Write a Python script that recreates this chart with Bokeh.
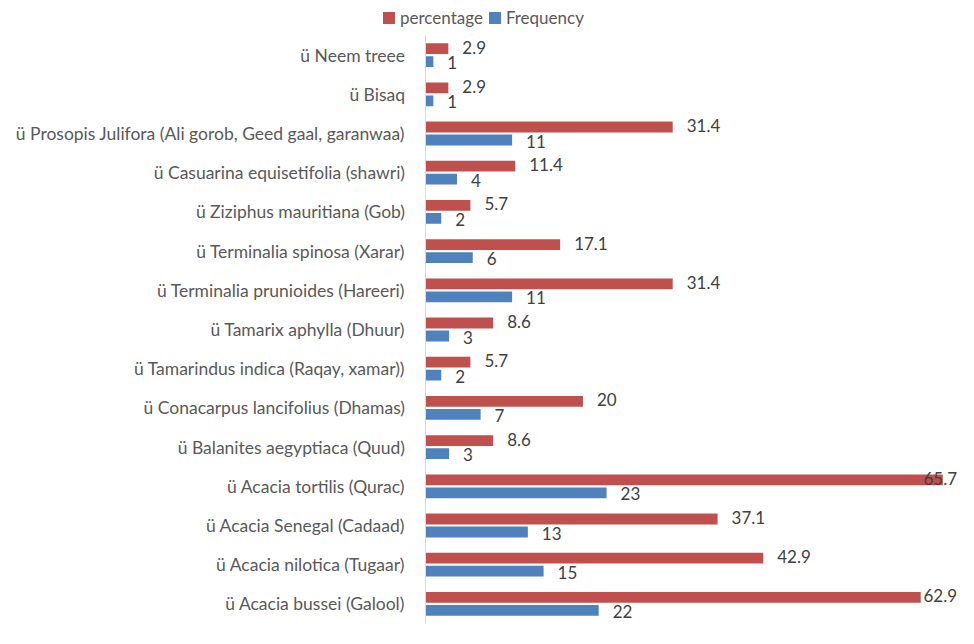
import numpy as np
from bokeh.plotting import figure
from bokeh.models import ColumnDataSource, FactorRange, Range1d, Legend, LegendItem
from bokeh.transform import dodge
from bokeh.core.properties import value
from bokeh.embed import file_html
from bokeh.resources import INLINE

# bottom to top
categories = [
    "ü  Acacia bussei (Galool)",
    "ü  Acacia nilotica (Tugaar)",
    "ü  Acacia Senegal (Cadaad)",
    "ü  Acacia tortilis (Qurac)",
    "ü  Balanites aegyptiaca (Quud)",
    "ü  Conacarpus lancifolius (Dhamas)",
    "ü  Tamarindus indica (Raqay, xamar))",
    "ü  Tamarix aphylla (Dhuur)",
    "ü  Terminalia prunioides (Hareeri)",
    "ü  Terminalia spinosa (Xarar)",
    "ü  Ziziphus mauritiana (Gob)",
    "ü  Casuarina equisetifolia (shawri)",
    "ü  Prosopis Julifora (Ali gorob, Geed gaal, garanwaa)",
    "ü  Bisaq",
    "ü  Neem treee",
]
percentage = [62.9, 42.9, 37.1, 65.7, 8.6, 20, 5.7, 8.6, 31.4, 17.1, 5.7, 11.4, 31.4, 2.9, 2.9]
frequency = [22, 15, 13, 23, 3, 7, 2, 3, 11, 6, 2, 4, 11, 1, 1]
series_names = ["percentage", "Frequency"]

RED = "#C0504D"
BLUE = "#4F81BD"
FONT = "Lato"
FRAME_W = 533
X_END = 67.7
PX_PER_UNIT = FRAME_W / X_END

def fmt(v):
    return ("%g" % v)

pct = np.array(percentage, dtype=float)
frq = np.array(frequency, dtype=float)
# keep labels inside the plot area (as the spreadsheet does)
clamp = X_END - 49 / PX_PER_UNIT
src = ColumnDataSource(dict(
    cat=categories,
    pct=pct,
    frq=frq,
    pct_lx=np.minimum(pct, clamp),
    frq_lx=np.minimum(frq, clamp),
    pct_txt=[fmt(v) for v in percentage],
    frq_txt=[fmt(v) for v in frequency],
))

# ---- legend strip on top (separate root, so its frame is not aligned) ----
lg = figure(width=958, height=35, output_backend="svg", toolbar_location=None,
            x_range=Range1d(0, 1), y_range=Range1d(0, 1),
            min_border_left=0, min_border_right=0, min_border_top=0, min_border_bottom=0)
lg.outline_line_color = None
lg.axis.visible = False
lg.grid.visible = False
# legend proxies: kept outside the strip's visible range, only their swatches are shown
proxy = ColumnDataSource(dict(y=[-5], right=[1]))
d_pct = lg.hbar(y="y", left=0, right="right", height=1, fill_color=RED, line_color=None, source=proxy)
d_frq = lg.hbar(y="y", left=0, right="right", height=1, fill_color=BLUE, line_color=None, source=proxy)
legend = Legend(items=[LegendItem(label=series_names[0], renderers=[d_pct]),
                       LegendItem(label=series_names[1], renderers=[d_frq])],
                orientation="horizontal", location=(381, 7),
                glyph_width=15, glyph_height=15, label_standoff=4, spacing=4,
                padding=0, margin=0, border_line_color=None, background_fill_alpha=0,
                label_text_font=FONT, label_text_font_size="17px", label_text_color="#595959")
lg.add_layout(legend, "center")

# ---- main chart ----
p = figure(width=958, height=593, output_backend="svg", toolbar_location=None,
           y_range=FactorRange(factors=categories, range_padding=0),
           x_range=Range1d(0, X_END),
           min_border_left=425, min_border_right=0, min_border_top=0, min_border_bottom=5)
p.outline_line_color = None
p.xgrid.visible = False
p.ygrid.visible = False
p.xaxis.visible = False

OFF = 0.166
H = 0.275
p.hbar(y=dodge("cat", OFF, range=p.y_range), left=0, right="pct", height=H,
       fill_color=RED, line_color=None, source=src)
p.hbar(y=dodge("cat", -OFF, range=p.y_range), left=0, right="frq", height=H,
       fill_color=BLUE, line_color=None, source=src)

p.text(x="pct_lx", y=dodge("cat", OFF + 0.04, range=p.y_range), text="pct_txt", x_offset=14,
       text_font=value(FONT), text_font_size="17px", text_color="#404040",
       text_baseline="middle", source=src)
p.text(x="frq_lx", y=dodge("cat", -OFF - 0.03, range=p.y_range), text="frq_txt", x_offset=14,
       text_font=value(FONT), text_font_size="17px", text_color="#404040",
       text_baseline="middle", source=src)

ax = p.yaxis[0]
ax.axis_line_color = "#d9d9d9"
ax.major_tick_line_color = None
ax.minor_tick_line_color = None
ax.major_label_text_font = FONT
ax.major_label_text_font_size = "17.5px"
ax.major_label_text_color = "#595959"
ax.major_label_standoff = 10

open("out.html", "w").write(file_html([lg, p], INLINE))
